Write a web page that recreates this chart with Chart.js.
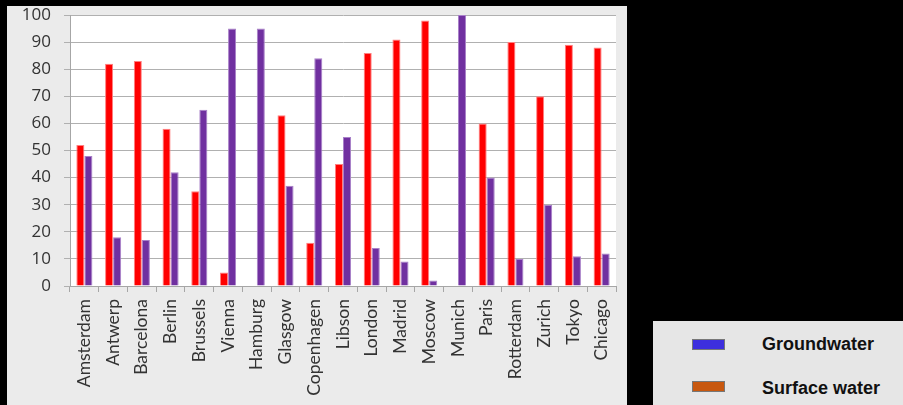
<!DOCTYPE html>
<html>
<head>
<meta charset="utf-8">
<script src="https://cdn.jsdelivr.net/npm/chart.js@4"></script>
<style>
  html, body { margin: 0; padding: 0; background: #000; }
  #panel { position: absolute; left: 7px; top: 6px; width: 620px; height: 399px; background: #ebebeb; }
  #myChart { position: absolute; left: 7px; top: 0; }
  #legend { position: absolute; left: 653px; top: 321px; width: 250px; height: 84px; background: #e6e6e6;
            font-family: "Liberation Sans", Arial, sans-serif; font-weight: bold; font-size: 18px; line-height: 20px; color: #111; }
  .swatch { position: absolute; left: 39px; width: 31px; height: 9px; border: 1px solid #777; }
  .label { position: absolute; left: 109px; white-space: nowrap; }
</style>
</head>
<body>
<div id="panel"></div>
<canvas id="myChart" width="620" height="405"></canvas>
<div id="legend">
  <div class="swatch" style="top:18px; background:#3d2fdd;"></div>
  <div class="label" style="top:13px;">Groundwater</div>
  <div class="swatch" style="top:60px; background:#c8580f;"></div>
  <div class="label" style="top:57px;">Surface water</div>
</div>
<script>
// Categories and series values
const cities = ['Amsterdam', 'Antwerp', 'Barcelona', 'Berlin', 'Brussels', 'Vienna', 'Hamburg', 'Glasgow',
  'Copenhagen', 'Libson', 'London', 'Madrid', 'Moscow', 'Munich', 'Paris', 'Rotterdam', 'Zurich', 'Tokyo', 'Chicago'];
const surfaceWater = [52, 82, 83, 58, 35, 5, 0, 63, 16, 45, 86, 91, 98, 0, 60, 90, 70, 89, 88];
const groundwater = [48, 18, 17, 42, 65, 95, 95, 37, 84, 55, 14, 9, 2, 100, 40, 10, 30, 11, 12];

// White plot area behind the bars
const plotBackground = {
  id: 'plotBackground',
  beforeDraw(chart) {
    const a = chart.chartArea;
    chart.ctx.save();
    chart.ctx.fillStyle = '#ffffff';
    chart.ctx.fillRect(a.left, a.top, a.right - a.left, a.bottom - a.top);
    chart.ctx.restore();
  }
};

const ctx = document.getElementById('myChart').getContext('2d');

var myChart = new Chart(ctx, {
  type: 'bar',
  data: {
    labels: cities,
    datasets: [{
      label: 'Surface water',
      data: surfaceWater,
      backgroundColor: '#ff0000',
      borderColor: '#ff8080',
      borderWidth: { left: 1, right: 1, top: 1, bottom: 0 },
      categoryPercentage: 0.56,
      barPercentage: 1
    }, {
      label: 'Groundwater',
      data: groundwater,
      backgroundColor: '#7030a0',
      borderColor: '#a880c8',
      borderWidth: { left: 1, right: 1, top: 1, bottom: 0 },
      categoryPercentage: 0.56,
      barPercentage: 1
    }]
  },
  options: {
    responsive: false,
    animation: false,
    layout: { padding: { top: 15, right: 11, left: 0, bottom: 0 } },
    plugins: {
      legend: { display: false },
      tooltip: { enabled: false }
    },
    scales: {
      x: {
        grid: { drawOnChartArea: false, drawTicks: true, tickLength: 6, color: '#a6a6a6' },
        border: { color: '#a6a6a6' },
        ticks: {
          color: '#333333',
          minRotation: 90,
          maxRotation: 90,
          autoSkip: false,
          padding: 7,
          font: { family: 'Lato', size: 17.5 }
        },
        afterFit: function(scale) { scale.height = 119; scale.paddingLeft = 0; scale.paddingRight = 0; }
      },
      y: {
        min: 0,
        max: 100,
        grid: { color: '#b0b0b0', tickLength: 6 },
        border: { color: '#a6a6a6' },
        ticks: {
          stepSize: 10,
          autoSkip: false,
          color: '#333333',
          padding: 13,
          font: { family: 'Open Sans', size: 17 }
        },
        afterFit: function(scale) { scale.width = 63; scale.paddingTop = 0; scale.paddingBottom = 0; }
      }
    }
  },
  plugins: [plotBackground]
});
</script>
</body>
</html>
